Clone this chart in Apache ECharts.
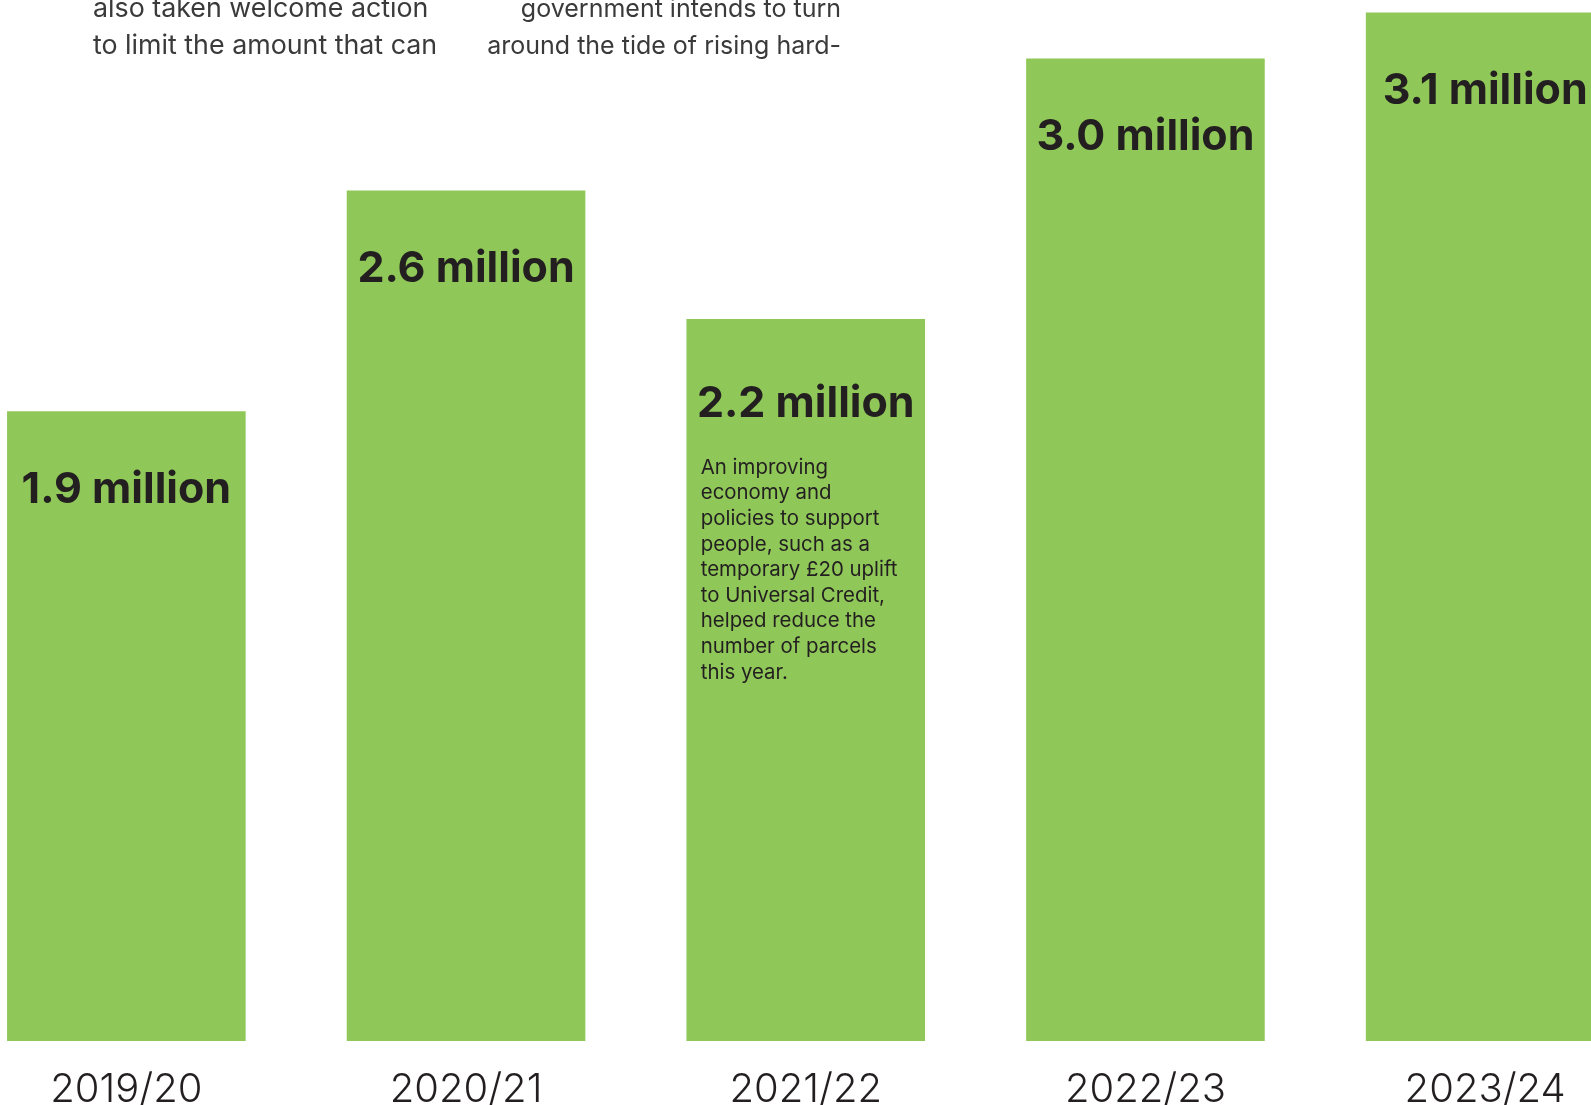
<!DOCTYPE html>
<html><head><meta charset="utf-8">
<script src="https://cdn.jsdelivr.net/npm/echarts@6/dist/echarts.min.js"></script>
<style>html,body{margin:0;padding:0;background:#fff;overflow:hidden}#c{width:1591px;height:1105px}</style>
</head><body><div id="c"></div>
<script>
// Food parcels distributed (millions)
const categories = ['2019/20', '2020/21', '2021/22', '2022/23', '2023/24'];
const parcels = [1.91, 2.58, 2.19, 2.98, 3.12];
const noteCategory = '2021/22';
const noteLines = [
  'An improving',
  'economy and',
  'policies to support',
  'people, such as a',
  'temporary £20 uplift',
  'to Universal Credit,',
  'helped reduce the',
  'number of parcels',
  'this year.'
];
const topLeftLines = ['also taken welcome action', 'to limit the amount that can'];
const topRightLines = ['government intends to turn', 'around the tide of rising hard-'];

const GREEN = '#8fc858';
const INK = '#231f20';

const chart = echarts.init(document.getElementById('c'), null, {renderer: 'canvas'});

const barData = parcels.map((v, i) => {
  const item = {value: v};
  if (categories[i] === noteCategory) item.label = {distance: 64};
  return item;
});

chart.setOption({
  backgroundColor: '#ffffff',
  animation: false,
  grid: {left: -43.5, width: 1698.5, top: -14, height: 1055, containLabel: false, outerBoundsMode: 'none'},
  xAxis: {
    type: 'category',
    data: categories,
    axisLine: {show: false},
    axisTick: {show: false},
    axisLabel: {
      color: INK, fontFamily: 'Inter', fontWeight: 300, fontSize: 40,
      lineHeight: 42, margin: 28
    }
  },
  yAxis: {type: 'value', min: 0, max: 3.2, show: false, splitLine: {show: false}},
  series: [{
    type: 'bar',
    data: barData,
    barWidth: 238.6,
    itemStyle: {color: GREEN},
    label: {
      show: true,
      position: 'insideTop',
      distance: 57,
      color: INK,
      fontFamily: 'Inter',
      fontWeight: 700,
      fontSize: 43,
      lineHeight: 43,
      formatter: p => p.value.toFixed(1) + ' million'
    }
  }]
});

const noteIdx = categories.indexOf(noteCategory);
const noteTop = chart.convertToPixel({gridIndex: 0}, [noteIdx, parcels[noteIdx]]) || [805, 320];

const graphics = [];
noteLines.forEach((t, i) => {
  graphics.push({
    type: 'text', silent: true, z: 100,
    x: noteTop[0] - 105, y: noteTop[1] + 148.6 + i * 25.6,
    style: {text: t, fill: INK, font: '400 20.4px Inter', textAlign: 'left', textVerticalAlign: 'middle'}
  });
});
topLeftLines.forEach((t, i) => {
  graphics.push({
    type: 'text', silent: true, z: 100,
    x: 93, y: 9 + i * 37,
    style: {text: t, fill: '#3a3a3a', font: '400 26.8px Inter', textAlign: 'left', textVerticalAlign: 'middle'}
  });
});
topRightLines.forEach((t, i) => {
  graphics.push({
    type: 'text', silent: true, z: 100,
    x: 841, y: 9 + i * 37,
    style: {text: t, fill: '#3a3a3a', font: '400 25px Inter', textAlign: 'right', textVerticalAlign: 'middle'}
  });
});
chart.setOption({graphic: graphics});
</script>
</body></html>
